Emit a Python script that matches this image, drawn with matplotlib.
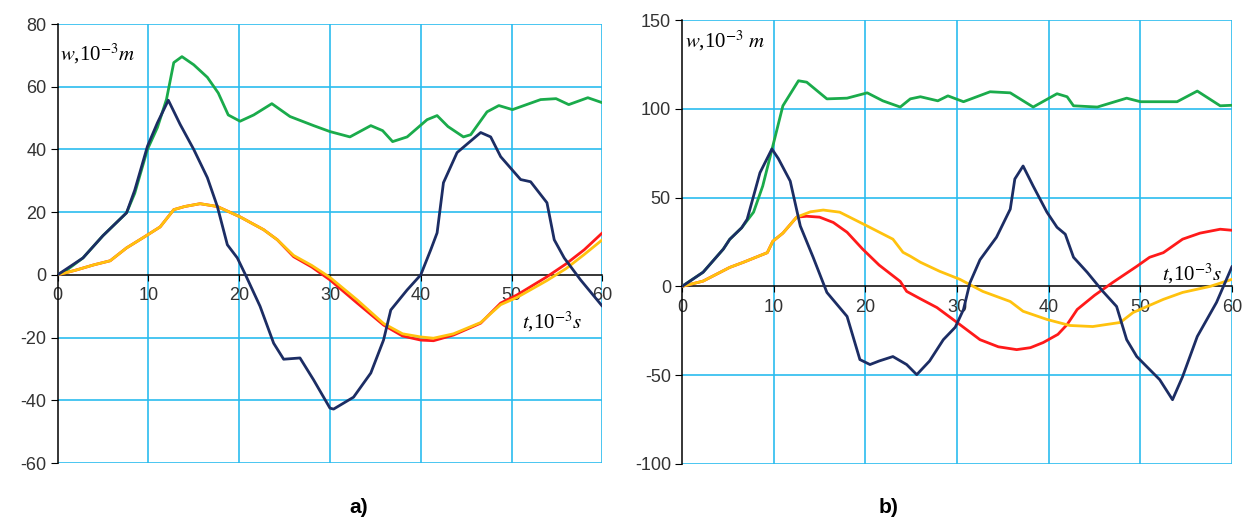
import matplotlib
matplotlib.use("Agg")
import matplotlib.pyplot as plt

plt.rcParams['font.family'] = ['Liberation Sans', 'DejaVu Sans']
plt.rcParams['mathtext.fontset'] = 'stix'
plt.rcParams['axes.unicode_minus'] = False

# panel a)
a_green_t = [0, 1, 2.8, 5, 7.6, 8.5, 9.9, 11, 12, 12.8, 13.7, 15, 16.5, 17.7, 18.8, 20.1, 21.6, 23.6, 25.6,
             28.2, 30, 32.2, 34.5, 35.8, 36.9, 38.5, 40.7, 41.8, 43, 44.7, 45.5, 47.3, 48.6, 50.1, 53.2,
             54.9, 56.3, 58.4, 60]
a_green_w = [0, 1.5, 5.4, 12.5, 19.8, 26, 40, 47, 56, 67.7, 69.6, 67, 63, 58, 51, 49, 51, 54.6, 50.5,
             47.6, 45.7, 44, 47.6, 46, 42.5, 44, 49.5, 50.8, 47.3, 44, 44.7, 52, 54, 52.7, 55.9,
             56.2, 54.3, 56.5, 54.9]

a_navy_t = [0, 2.8, 5, 7.6, 8.5, 9.9, 11, 12.2, 13.5, 15, 16.5, 17.6, 18.7, 19.8, 20.7, 22.3, 23.8, 24.9,
            26.7, 28.2, 30, 30.4, 32.6, 34.5, 35.9, 36.7, 38.5, 40, 41.1, 41.8, 42.5, 44, 46.6, 47.7,
            48.8, 51, 52.1, 53.9, 54.7, 55.8, 57.6, 60]
a_navy_w = [0, 5.4, 12.5, 19.8, 27, 41, 48.5, 55.7, 48, 40, 31, 21.8, 9.6, 5.4, 0, -10, -21.8, -26.9,
            -26.5, -33.5, -42.5, -42.8, -39, -31.3, -20.8, -11.2, -4.8, 0, 8, 13.4, 29.4, 39, 45.4, 44,
            37.7, 30.4, 29.7, 23, 11.2, 5.4, -1.6, -10]

a_red_t = [0, 2, 4, 5.8, 7.6, 9.5, 11.3, 12.8, 14, 15.7, 17.6, 20.1, 22.7, 24.2, 26, 28, 30, 33, 35.9,
           38, 40, 41.4, 43.6, 46.6, 48.8, 50.6, 53.9, 56, 58, 60]
a_red_w = [0, 1.5, 3.2, 4.5, 8.6, 12, 15.3, 20.8, 21.8, 22.7, 21.8, 18.5, 14.4, 11.2, 5.8, 2.5, -1.6, -9,
           -16, -19.5, -20.8, -21, -19.2, -15.4, -9, -6.4, -0.6, 3.5, 8, 13.4]

a_orange_t = [0, 2, 4, 5.8, 7.6, 9.5, 11.3, 12.8, 14, 15.7, 17.6, 20.1, 22.7, 24.2, 26, 28, 30, 33, 35.9,
              38, 40, 41.4, 43.6, 46.6, 48.8, 50.6, 53.9, 56, 58, 60]
a_orange_w = [0, 1.5, 3.2, 4.5, 8.6, 12, 15.3, 20.8, 21.8, 22.7, 21.8, 18.5, 14.4, 11.2, 6.2, 3, -0.8, -8,
              -15.5, -18.8, -19.8, -20.2, -18.8, -15.2, -9.5, -7.2, -1.8, 2, 6.5, 11.2]

# panel b)
b_green_t = [0, 2.3, 4.5, 5.2, 6.5, 7.8, 8.8, 9.9, 11, 12.7, 13.6, 15.8, 18, 20.2, 21.9, 23.8, 24.9, 26,
             27.9, 29, 30.7, 33.6, 35.8, 38.3, 40.9, 42, 42.7, 45.3, 48.5, 50, 54, 56.2, 58.7, 60]
b_green_w = [0, 8, 21, 26.5, 33, 41.8, 56.5, 79, 101.7, 115.8, 115, 105.6, 106, 109, 104.5, 101, 105.6,
             106.8, 104.5, 107.3, 104, 109.6, 109, 101, 108.5, 106.8, 101.7, 101, 106, 104, 104, 110,
             101.7, 102]

b_navy_t = [0, 2.3, 4.5, 5.2, 6.5, 7.1, 8.5, 9.8, 10.5, 11.8, 12.9, 14.3, 15.8, 18, 19.4, 20.5, 21.5, 23,
            24.5, 25.6, 27, 28.5, 29.8, 30.7, 31.4, 32.5, 34.3, 35.8, 36.3, 37.2, 38.3, 39.8, 40.9, 41.8,
            42.7, 44.2, 45.9, 47.4, 48.5, 49.6, 52.1, 53.5, 54.6, 56.2, 58.3, 60]
b_navy_w = [0, 8, 21, 26.5, 33, 37.8, 64, 77.4, 72, 59.3, 34, 16.4, -3.4, -16.9, -41.2, -44, -42, -39.5,
            -44, -49.7, -42, -30, -23, -13, 2, 15, 27.7, 43.5, 60.5, 67.8, 56.5, 41.8, 33.3, 29.4,
            16.4, 7.9, -2.8, -11.3, -30, -39.5, -52.5, -63.8, -50.8, -28.2, -9, 11.3]

b_red_t = [0, 2.3, 5.2, 6.7, 9.3, 9.9, 11, 12.5, 13.6, 15, 16.5, 18, 19.7, 21.5, 23.8, 24.5, 26, 27.8, 30,
           32.5, 34.5, 36.5, 38, 39.4, 41, 42, 43.1, 45, 47, 49.6, 51, 52.5, 54.6, 56.5, 58.7, 60]
b_red_w = [0, 3, 10.7, 13.6, 19, 25.4, 30, 39, 39.5, 39, 36, 30.5, 21, 12, 2.8, -2.8, -7, -11.9, -20.3,
           -30, -34, -35.6, -34.5, -31.6, -27, -21.5, -13, -5, 2.3, 11.3, 16.4, 19, 26.6, 30, 32.2, 31.6]

b_orange_t = [0, 2.3, 5.2, 6.7, 9.3, 9.9, 11, 12.5, 14, 15.4, 17.2, 20.2, 23, 24.1, 24.9, 26, 28.1, 30.3,
              32.8, 35.8, 37.2, 39.8, 42.3, 44.8, 47.8, 49.2, 52.5, 54.6, 57.6, 60]
b_orange_w = [0, 3, 10.7, 13.6, 19, 25.4, 30, 39, 42, 43, 41.8, 34, 26.6, 19.2, 17, 13.6, 8.5, 4,
              -2.8, -8.5, -14, -18.6, -22, -22.6, -20.3, -14.7, -7.3, -3.4, 0, 4]

x_ticks = [0, 10, 20, 30, 40, 50, 60]
a_y_ticks = [-60, -40, -20, 0, 20, 40, 60, 80]
b_y_ticks = [-100, -50, 0, 50, 100, 150]

GRID = '#2bbcef'
GREEN = '#1aab4b'
NAVY = '#1c2d64'
RED = '#ff1a1a'
ORANGE = '#ffc20e'


def style_axes(ax, yticks):
    ax.set_xlim(0, 60)
    ax.set_ylim(yticks[0], yticks[-1])
    ax.set_xticks(x_ticks)
    ax.set_yticks(yticks)
    for v in yticks:
        if v != 0:
            ax.axhline(v, color=GRID, lw=1.2, zorder=1)
    for v in x_ticks[1:]:
        ax.axvline(v, color=GRID, lw=1.2, zorder=1)
    ax.spines['top'].set_visible(False)
    ax.spines['right'].set_visible(False)
    ax.spines['bottom'].set_position(('data', 0))
    ax.spines['bottom'].set_zorder(2)
    ax.spines['left'].set_linewidth(1.1)
    ax.spines['bottom'].set_linewidth(1.1)
    ax.tick_params(axis='y', direction='out', length=5, labelsize=13, labelcolor='#333333', pad=3)
    ax.tick_params(axis='x', direction='out', length=4, labelsize=13, labelcolor='#333333', pad=5)


def draw(ax, t, w, color, z=3):
    ax.plot(t, w, color=color, lw=2, zorder=z, solid_joinstyle='round', solid_capstyle='round')


fig = plt.figure(figsize=(12.51, 5.2), dpi=100)
ax1 = fig.add_axes([0.046, 0.1096, 0.4355, 0.8442])
ax2 = fig.add_axes([0.5452, 0.1077, 0.4397, 0.8538])

style_axes(ax1, a_y_ticks)
draw(ax1, a_green_t, a_green_w, GREEN)
draw(ax1, a_navy_t, a_navy_w, NAVY, 4)
draw(ax1, a_red_t, a_red_w, RED)
draw(ax1, a_orange_t, a_orange_w, ORANGE)
ax1.text(0.3, 70.5, r'$w$,10$^{-3}$$m$', fontsize=15, family='Liberation Serif', va='center', ha='left')
ax1.text(51.2, -15, r'$t$,10$^{-3}$$s$', fontsize=15, family='Liberation Serif', va='center', ha='left')

style_axes(ax2, b_y_ticks)
draw(ax2, b_green_t, b_green_w, GREEN)
draw(ax2, b_navy_t, b_navy_w, NAVY, 4)
draw(ax2, b_red_t, b_red_w, RED)
draw(ax2, b_orange_t, b_orange_w, ORANGE)
ax2.text(0.3, 138, r'$w$,10$^{-3}$ $m$', fontsize=15, family='Liberation Serif', va='center', ha='left')
ax2.text(52.3, 7, r'$t$,10$^{-3}$$s$', fontsize=15, family='Liberation Serif', va='center', ha='left')

fig.text(0.287, 0.024, 'a)', fontsize=15, fontweight='bold', ha='center', va='center')
fig.text(0.71, 0.024, 'b)', fontsize=15, fontweight='bold', ha='center', va='center')

fig.savefig('out.png', dpi=100)
